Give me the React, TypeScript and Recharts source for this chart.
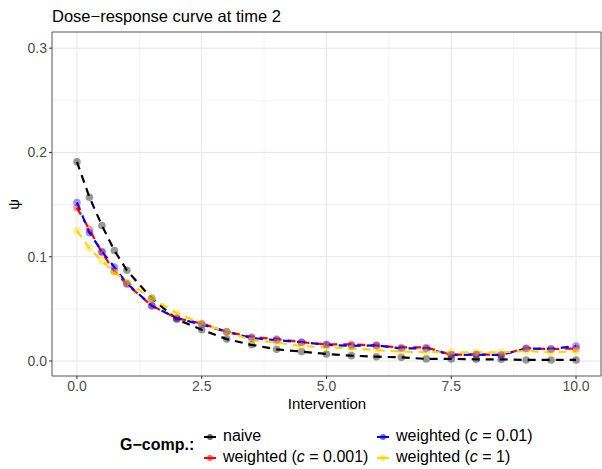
import React from 'react';
import { ComposedChart, Line, XAxis, YAxis, CartesianGrid, ReferenceArea } from 'recharts';

// intervention levels
const xs = [0, 0.25, 0.5, 0.75, 1, 1.5, 2, 2.5, 3, 3.5, 4, 4.5, 5, 5.5, 6, 6.5, 7, 7.5, 8, 8.5, 9, 9.5, 10];

const naive = [0.191, 0.157, 0.13, 0.106, 0.087, 0.06, 0.04, 0.03, 0.021, 0.0155, 0.0112, 0.009, 0.0067, 0.0051, 0.0041, 0.0035, 0.002, 0.002, 0.0016, 0.0016, 0.001, 0.001, 0.001];
const w001 = [0.147, 0.126, 0.104, 0.086, 0.0735, 0.053, 0.041, 0.036, 0.028, 0.023, 0.021, 0.018, 0.016, 0.016, 0.0147, 0.013, 0.013, 0.006, 0.0064, 0.0058, 0.0122, 0.0115, 0.012];
const w01 = [0.152, 0.123, 0.105, 0.09, 0.0745, 0.053, 0.041, 0.035, 0.028, 0.022, 0.02, 0.018, 0.0155, 0.0145, 0.015, 0.012, 0.012, 0.0058, 0.006, 0.0058, 0.012, 0.0115, 0.0144];
const w1 = [0.125, 0.108, 0.096, 0.085, 0.076, 0.06, 0.046, 0.036, 0.028, 0.02, 0.0176, 0.0144, 0.013, 0.012, 0.0105, 0.009, 0.0085, 0.0083, 0.0083, 0.0083, 0.0096, 0.0083, 0.0093];

const xTicks = [0, 2.5, 5, 7.5, 10];
const xMinor = [1.25, 3.75, 6.25, 8.75];
const yTicks = [0, 0.1, 0.2, 0.3];
const yMinor = [0.05, 0.15, 0.25];

const data = xs.map((x, i) => ({ x, naive: naive[i], w001: w001[i], w01: w01[i], w1: w1[i] }));

const series = [
   { key: 'naive', color: '#000000' },
   { key: 'w001', color: '#FF0000' },
   { key: 'w01', color: '#0000FF' },
   { key: 'w1', color: '#FFD700' },
];

const font = '"Liberation Sans", Arial, sans-serif';

const Key = ({ color }: { color: string }) => (
   <svg width={14} height={10} style={{ display: 'inline-block', verticalAlign: 'middle', marginRight: 6 }}>
      <line x1={1} y1={5} x2={13} y2={5} stroke={color} strokeWidth={2} />
      <circle cx={7} cy={5} r={3} fill={color} fillOpacity={0.6} />
   </svg>
);

const legendItem = (label: React.ReactNode, color: string, left: number, top: number) => (
   <div style={{ position: 'absolute', left, top, fontSize: 16, color: '#000', whiteSpace: 'nowrap', lineHeight: '20px' }}>
      <Key color={color} />
      {label}
   </div>
);

const App = () => {
   return (
      <div style={{ position: 'fixed', left: 0, top: 0, width: 602, height: 469, overflow: 'hidden', background: '#fff', fontFamily: font }}>
         <ComposedChart width={602} height={469} data={data} margin={{ top: 32, right: 1, bottom: 0, left: 0 }}>
            <CartesianGrid stroke="#F3F3F3" strokeWidth={1} verticalValues={xMinor} horizontalValues={yMinor} />
            <CartesianGrid stroke="#E6E6E6" strokeWidth={1} verticalValues={xTicks} horizontalValues={yTicks} />
            <XAxis
               dataKey="x"
               type="number"
               domain={[-0.5, 10.5]}
               ticks={xTicks}
               tickFormatter={(v: number) => v.toFixed(1)}
               height={93}
               axisLine={false}
               tickSize={3}
               tickLine={{ stroke: '#333' }}
               tick={{ fontSize: 14, fill: '#4D4D4D', fontFamily: font }}
               allowDataOverflow
            />
            <YAxis
               type="number"
               domain={[-0.0144, 0.3155]}
               ticks={yTicks}
               tickFormatter={(v: number) => v.toFixed(1)}
               width={52}
               axisLine={false}
               tickSize={3}
               tickLine={{ stroke: '#333' }}
               tick={{ fontSize: 14, fill: '#4D4D4D', fontFamily: font }}
               allowDataOverflow
            />
            <ReferenceArea x1={-0.5} x2={10.5} y1={-0.0144} y2={0.3155} fill="none" stroke="#555" strokeWidth={1} ifOverflow="visible" />
            {series.map((s) => (
               <Line
                  key={s.key}
                  dataKey={s.key}
                  type="linear"
                  stroke={s.color}
                  strokeWidth={2.2}
                  strokeDasharray="8 6"
                  dot={{ r: 3.8, fill: s.color, fillOpacity: 0.4, stroke: 'none' }}
                  activeDot={false}
                  isAnimationActive={false}
               />
            ))}
         </ComposedChart>

         <div style={{ position: 'absolute', left: 52, top: 7, fontSize: 16.5, color: '#000' }}>Dose−response curve at time 2</div>
         <div style={{ position: 'absolute', left: 0, top: 196, width: 26, textAlign: 'center', fontSize: 15, transform: 'rotate(-90deg)' }}>ψ</div>
         <div style={{ position: 'absolute', left: 52, width: 550, top: 395, textAlign: 'center', fontSize: 15 }}>Intervention</div>

         <div style={{ position: 'absolute', left: 120, top: 436, fontSize: 16, fontWeight: 'bold' }}>G−comp.:</div>
         {legendItem('naive', '#000000', 203, 426)}
         {legendItem(<span>weighted (<i>c</i> = 0.001)</span>, '#FF0000', 203, 447)}
         {legendItem(<span>weighted (<i>c</i> = 0.01)</span>, '#0000FF', 376, 426)}
         {legendItem(<span>weighted (<i>c</i> = 1)</span>, '#FFD700', 376, 447)}
      </div>
   );
};

export default App;
